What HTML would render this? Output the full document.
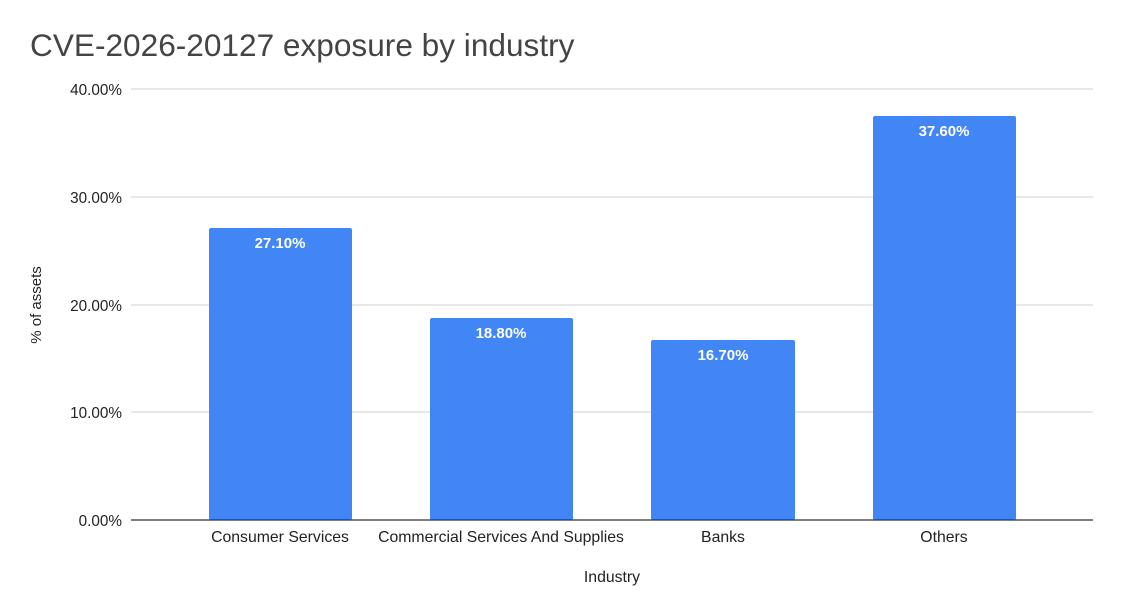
<!DOCTYPE html>
<html><head><meta charset="utf-8"><style>
html,body{margin:0;padding:0;background:#fff}
svg{display:block}
text{font-family:"Liberation Sans",Arial,sans-serif}
</style></head><body>
<svg width="1123" height="614" viewBox="0 0 1123 614" xmlns="http://www.w3.org/2000/svg">
<rect width="1123" height="614" fill="#fff"/>
<text x="30" y="56" font-size="31.6" fill="#444">CVE-2026-20127 exposure by industry</text>
<g stroke="#d9d9d9" stroke-width="1.3">
<line x1="131" y1="89" x2="1093" y2="89"/>
<line x1="131" y1="197" x2="1093" y2="197"/>
<line x1="131" y1="305" x2="1093" y2="305"/>
<line x1="131" y1="412" x2="1093" y2="412"/>
</g>
<g font-size="15.3" fill="#222" text-anchor="end">
<text x="122" y="95">40.00%</text>
<text x="122" y="203">30.00%</text>
<text x="122" y="311">20.00%</text>
<text x="122" y="418">10.00%</text>
<text x="122" y="526">0.00%</text>
</g>
<g fill="#4285f4">
<rect x="209" y="228" width="143" height="292" rx="2"/>
<rect x="430" y="318" width="143" height="202" rx="2"/>
<rect x="651" y="340" width="144" height="180" rx="2"/>
<rect x="873" y="116" width="143" height="404" rx="2"/>
</g>
<line x1="131" y1="520" x2="1093" y2="520" stroke="#333" stroke-width="1.3"/>
<g font-size="15" fill="#fff" font-weight="bold" text-anchor="middle">
<text x="280" y="248">27.10%</text>
<text x="501" y="338">18.80%</text>
<text x="723" y="360">16.70%</text>
<text x="944" y="136">37.60%</text>
</g>
<g font-size="15.8" fill="#222" text-anchor="middle">
<text x="280" y="542">Consumer Services</text>
<text x="501" y="542">Commercial Services And Supplies</text>
<text x="723" y="542">Banks</text>
<text x="944" y="542">Others</text>
<text x="612" y="582">Industry</text>
<text transform="translate(41,305) rotate(-90)" font-size="15">% of assets</text>
</g>
</svg>
</body></html>
